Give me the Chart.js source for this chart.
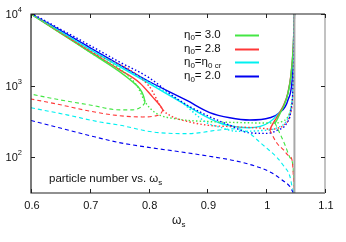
<!DOCTYPE html>
<html><head><meta charset="utf-8">
<script src="https://cdn.jsdelivr.net/npm/chart.js@4"></script>
<style>html,body{margin:0;padding:0;background:#fff}canvas{display:block}</style>
</head><body>
<canvas id="c" width="346" height="242"></canvas>
<script>
// ---------- data (omega_s, particle number) ----------
const xTicks = [0.6, 0.7, 0.8, 0.9, 1.0, 1.1];
const xTickLabels = ["0.6", "0.7", "0.8", "0.9", "1", "1.1"];
const yTicks = [100, 1000, 10000];
const yTickExp = ["2", "3", "4"];
const legendLabels = ["3.0", "2.8", "cr", "2.0"];
const thresholdOmega = [1.048, 1.048];
const thresholdN = [31.6, 10000];

// eta0 = 3.0 (green)
const gSolidLw = [0.6, 0.65, 0.7, 0.75, 0.773, 0.785, 0.791, 0.794];
const gSolidLn = [10000, 5400, 2930, 1580, 1124, 900, 730, 593];
const gDashLw = [0.794, 0.792, 0.785, 0.773, 0.751, 0.7, 0.65, 0.6];
const gDashLn = [593, 550, 490, 458, 458, 537, 630, 760];
const gSolidRw = [1.015, 1.018, 1.023, 1.03, 1.037, 1.042, 1.046, 1.048];
const gSolidRn = [300, 330, 400, 520, 780, 1350, 3400, 10000];
const gDashRw = [1.015, 1.025, 1.032, 1.04, 1.0456, 1.048];
const gDashRn = [300, 200, 148, 100, 74, 32];
const gDotw = [0.6, 0.7, 0.78, 0.794, 0.811, 0.85, 0.9, 0.95, 1.0, 1.015, 1.025, 1.035, 1.04, 1.044, 1.046, 1.047, 1.048];
const gDotn = [10000, 2950, 1000, 593, 420, 340, 315, 305, 300, 300, 310, 350, 420, 600, 1000, 2000, 10000];

// eta0 = 2.8 (red)
const rSolidLw = [0.6, 0.65, 0.7, 0.751, 0.785, 0.807, 0.82, 0.8245];
const rSolidLn = [10000, 5500, 3000, 1660, 1090, 690, 520, 457];
const rDashLw = [0.8245, 0.82, 0.81, 0.79, 0.75, 0.7, 0.65, 0.6];
const rDashLn = [457, 400, 375, 365, 380, 440, 540, 650];
const rSolidRw = [1.006, 1.01, 1.015, 1.023, 1.03, 1.037, 1.042, 1.046, 1.048];
const rSolidRn = [240, 280, 330, 420, 540, 800, 1400, 3500, 10000];
const rDashRw = [1.006, 1.018, 1.03, 1.038, 1.044, 1.048];
const rDashRn = [240, 158, 125, 105, 91, 32];
const rDotw = [0.6, 0.7, 0.8, 0.8245, 0.84, 0.87, 0.9, 0.95, 1.0, 1.006, 1.02, 1.03, 1.04, 1.045, 1.047, 1.048];
const rDotn = [10000, 3050, 1000, 457, 370, 310, 280, 265, 250, 245, 255, 280, 380, 700, 2000, 10000];

// eta0 = eta0 cr (cyan)
const cSolidw = [0.6, 0.65, 0.7, 0.75, 0.8, 0.85, 0.9, 0.921, 0.95, 0.97, 0.99, 1.006, 1.02, 1.03, 1.037, 1.042, 1.046, 1.048];
const cSolidn = [10000, 5700, 3200, 1850, 1080, 620, 360, 300, 265, 258, 270, 310, 400, 530, 780, 1350, 3400, 10000];
const cDashw = [0.6, 0.661, 0.717, 0.751, 0.807, 0.865, 0.921, 0.95, 0.97, 0.989, 1.005, 1.018, 1.03, 1.04, 1.044, 1.047];
const cDashn = [490, 390, 310, 280, 225, 213, 240, 250, 220, 162, 125, 100, 75, 55, 39, 32];
const cDotw = [0.6, 0.7, 0.8, 0.85, 0.9, 0.921, 0.95, 0.99, 1.02, 1.035, 1.042, 1.046, 1.048];
const cDotn = [10000, 3250, 1120, 640, 300, 263, 230, 235, 260, 330, 500, 1200, 10000];

// eta0 = 2.0 (blue)
const bSolidw = [0.6, 0.65, 0.7, 0.751, 0.8, 0.865, 0.904, 0.938, 0.972, 1.006, 1.023, 1.037, 1.0456, 1.048];
const bSolidn = [10000, 5900, 3400, 1950, 1150, 620, 420, 355, 330, 355, 420, 630, 1820, 10000];
const bDashw = [0.6, 0.65, 0.7, 0.75, 0.8, 0.85, 0.9, 0.95, 0.99, 1.01, 1.027, 1.04, 1.046];
const bDashn = [325, 255, 200, 160, 137, 120, 104, 88, 71, 60, 48, 39, 32];
const bDotw = [0.6, 0.7, 0.75, 0.8, 0.85, 0.9, 0.938, 0.97, 1.0, 1.02, 1.035, 1.042, 1.046, 1.048];
const bDotn = [10300, 3650, 2150, 1300, 640, 380, 280, 220, 215, 240, 300, 450, 1200, 10000];

// ---------- styles ----------
const GREEN = '#44e644', RED = '#ff3838', CYAN = '#00f0f0', BLUE = '#0000f0';
const pts = (xs, ys) => xs.map((x, i) => ({x: x, y: ys[i]}));
const SOLID = [], DASH = [4, 3], DOT = [1.5, 2.2];
function ds(xs, ys, color, dash, w) {
  return {data: pts(xs, ys), borderColor: color, borderDash: dash, borderWidth: w,
    showLine: true, pointRadius: 0, fill: false, tension: 0.3, cubicInterpolationMode: 'monotone'};
}
const datasets = [
  Object.assign(ds(thresholdOmega, thresholdN, '#a8a8a8', SOLID, 2), {tension: 0}),
  ds(bDashw, bDashn, BLUE, DASH, 1.1),
  ds(cDashw, cDashn, CYAN, DASH, 1.1),
  ds(rDashLw, rDashLn, RED, DASH, 1.1),
  ds(rDashRw, rDashRn, RED, DASH, 1.1),
  ds(gDashLw, gDashLn, GREEN, DASH, 1.1),
  ds(gDashRw, gDashRn, GREEN, DASH, 1.1),
  ds(bDotw, bDotn, BLUE, DOT, 1.4),
  ds(cDotw, cDotn, CYAN, DOT, 1.4),
  ds(rDotw, rDotn, RED, DOT, 1.4),
  ds(gDotw, gDotn, GREEN, DOT, 1.4),
  ds(gSolidLw, gSolidLn, GREEN, SOLID, 1.4),
  ds(gSolidRw, gSolidRn, GREEN, SOLID, 1.4),
  ds(rSolidLw, rSolidLn, RED, SOLID, 1.4),
  ds(rSolidRw, rSolidRn, RED, SOLID, 1.4),
  ds(cSolidw, cSolidn, CYAN, SOLID, 1.4),
  ds(bSolidw, bSolidn, BLUE, SOLID, 1.4),
];

const FONT = '"Liberation Sans", Arial, sans-serif';
const decor = {
  id: 'decor',
  afterDatasetsDraw(chart) {
    const ctx = chart.ctx, a = chart.chartArea;
    const xs = chart.scales.x, ys = chart.scales.y;
    ctx.save();
    ctx.lineWidth = 1.2;
    ctx.strokeStyle = '#222';
    ctx.beginPath();
    ctx.moveTo(a.right, a.top); ctx.lineTo(a.left, a.top); ctx.lineTo(a.left, a.bottom); ctx.lineTo(a.right, a.bottom);
    ctx.stroke();
    ctx.strokeStyle = '#999';
    ctx.beginPath(); ctx.moveTo(a.right, a.top); ctx.lineTo(a.right, a.bottom); ctx.stroke();
    ctx.strokeStyle = '#222'; ctx.lineWidth = 1;
    const TL = 4;
    xTicks.forEach(v => {
      const px = Math.round(xs.getPixelForValue(v)) + 0.5;
      ctx.beginPath(); ctx.moveTo(px, a.bottom); ctx.lineTo(px, a.bottom - TL);
      ctx.moveTo(px, a.top); ctx.lineTo(px, a.top + TL); ctx.stroke();
    });
    yTicks.forEach(v => {
      const py = Math.round(ys.getPixelForValue(v)) + 0.5;
      ctx.beginPath(); ctx.moveTo(a.left, py); ctx.lineTo(a.left + TL, py);
      ctx.moveTo(a.right, py); ctx.lineTo(a.right - TL, py); ctx.stroke();
    });
    ctx.fillStyle = '#111';
    ctx.font = '11px ' + FONT;
    ctx.textAlign = 'center'; ctx.textBaseline = 'middle';
    xTicks.forEach((v, i) => ctx.fillText(xTickLabels[i], xs.getPixelForValue(v) + 1, a.bottom + 13));
    yTicks.forEach((v, i) => {
      const py = ys.getPixelForValue(v);
      ctx.font = '7.5px ' + FONT; ctx.textAlign = 'right';
      ctx.fillText(yTickExp[i], 22, py - 4);
      const ew = ctx.measureText(yTickExp[i]).width;
      ctx.font = '11px ' + FONT;
      ctx.fillText('10', 22 - ew, py + 1);
    });
    ctx.textAlign = 'left';
    ctx.font = '12px ' + FONT;
    ctx.fillText('ω', 172, 221);
    ctx.font = '8px ' + FONT;
    ctx.fillText('s', 181.5, 225);
    ctx.font = '11.5px ' + FONT;
    ctx.textBaseline = 'alphabetic';
    const t1 = 'particle number vs. ω';
    ctx.fillText(t1, 49, 182);
    const w1 = ctx.measureText(t1).width;
    ctx.font = '8px ' + FONT;
    ctx.fillText('s', 49 + w1, 185);
    const colors = [GREEN, RED, CYAN, BLUE];
    const rowsY = [35, 48.7, 62.3, 76.3];
    rowsY.forEach((y, i) => {
      let x = 184;
      ctx.textBaseline = 'middle';
      ctx.font = '11.5px ' + FONT; ctx.fillStyle = '#111';
      ctx.fillText('η', x, y); x += ctx.measureText('η').width;
      ctx.font = '8px ' + FONT; ctx.fillText('0', x, y + 3); x += ctx.measureText('0').width;
      ctx.font = '11.5px ' + FONT;
      if (legendLabels[i] === 'cr') {
        ctx.fillText('=η', x, y); x += ctx.measureText('=η').width;
        ctx.font = '8px ' + FONT; ctx.fillText('0 cr', x, y + 3);
      } else {
        ctx.fillText('= ' + legendLabels[i], x, y);
      }
      ctx.strokeStyle = colors[i]; ctx.lineWidth = 2; ctx.setLineDash([]);
      ctx.beginPath(); ctx.moveTo(235, Math.round(y) + 0.5); ctx.lineTo(259, Math.round(y) + 0.5); ctx.stroke();
    });
    ctx.restore();
  }
};

new Chart(document.getElementById('c'), {
  type: 'scatter',
  data: {datasets: datasets},
  options: {
    responsive: false, animation: false, devicePixelRatio: 1,
    layout: {padding: {top: 14, right: 21, left: 0, bottom: 0}},
    plugins: {legend: {display: false}, tooltip: {enabled: false}},
    scales: {
      x: {type: 'linear', min: 0.6, max: 1.1,
          grid: {display: false}, border: {display: false}, ticks: {display: false},
          afterFit: s => { s.height = 49; }},
      y: {type: 'logarithmic', min: 31.6, max: 10000,
          grid: {display: false}, border: {display: false}, ticks: {display: false},
          afterFit: s => { s.width = 31; }}
    }
  },
  plugins: [decor]
});
</script>
</body></html>
